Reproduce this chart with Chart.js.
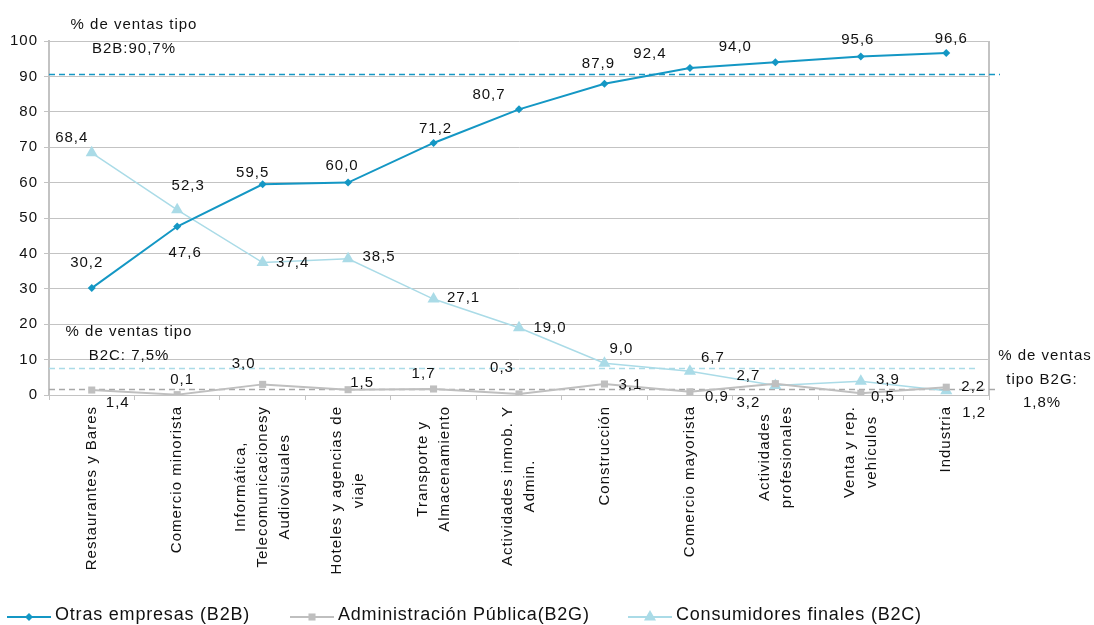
<!DOCTYPE html>
<html lang="es">
<head>
<meta charset="utf-8">
<title>% de ventas por tipo de cliente</title>
<script src="https://cdn.jsdelivr.net/npm/chart.js@4/dist/chart.umd.min.js"></script>
<style>
  html, body { margin: 0; padding: 0; background: #fff; }
  #wrap { width: 1094px; height: 625px; }
</style>
</head>
<body>
<div id="wrap"><canvas id="chart" width="1094" height="625"></canvas></div>
<script>
// --- Data ---
const categories = [
  ['Restaurantes y Bares'],
  ['Comercio minorista'],
  ['Informática,', 'Telecomunicacionesy', 'Audiovisuales'],
  ['Hoteles y agencias de', 'viaje'],
  ['Transporte y', 'Almacenamiento'],
  ['Actividades inmob. Y', 'Admin.'],
  ['Construcción'],
  ['Comercio mayorista'],
  ['Actividades', 'profesionales'],
  ['Venta y rep.', 'vehículos'],
  ['Industria'],
];
const b2b = [30.2, 47.6, 59.5, 60.0, 71.2, 80.7, 87.9, 92.4, 94.0, 95.6, 96.6];
const b2g = [1.4, 0.1, 3.0, 1.5, 1.7, 0.3, 3.1, 0.9, 3.2, 0.5, 2.2];
const b2c = [68.4, 52.3, 37.4, 38.5, 27.1, 19.0, 9.0, 6.7, 2.7, 3.9, 1.2];
const refB2B = 90.7;
const refB2C = 7.5;
const refB2G = 1.8;
const yTicks = [0, 10, 20, 30, 40, 50, 60, 70, 80, 90, 100];

// --- Label placement (pixel offsets from each point) ---
const offB2B = [[-5, -25], [8, 26], [-10, -12], [-6, -17], [2, -14], [-30, -14], [-6, -20], [-40, -14], [-40, -15], [-3, -17], [5, -14]];
const offB2G = [[26, 13], [5, -15], [-19, -21], [14, -7], [-10, -15], [-17, -26], [26, 1], [27, 5], [-27, 19], [22, 4], [27, 0]];
const offB2C = [[-20, -15], [11, -24], [30, 0], [31, -2], [30, -1], [31, 0], [17, -14], [23, -13], [-27, -10], [27, -1], [28, 22]];

// --- Styles ---
const COL_B2B = '#1497c4';
const COL_B2G = '#bfbfbf';
const COL_B2C = '#aadbe7';
const GRID = '#c3c3c3';
const FONT = '"Liberation Sans", Arial, sans-serif';

Chart.defaults.font.family = FONT;
Chart.defaults.color = '#000';

const fmt = v => v.toFixed(1).replace('.', ',');

function drawMarker(ctx, style, x, y, r, color) {
  ctx.save();
  ctx.fillStyle = color;
  ctx.beginPath();
  if (style === 'rectRot') {
    ctx.moveTo(x - r, y); ctx.lineTo(x, y - r); ctx.lineTo(x + r, y); ctx.lineTo(x, y + r);
  } else if (style === 'rect') {
    const s = r * Math.SQRT1_2;
    ctx.rect(x - s, y - s, 2 * s, 2 * s);
  } else {
    const h = r * 1.5;
    ctx.moveTo(x, y - r);
    ctx.lineTo(x + r * 0.866, y + r / 2);
    ctx.lineTo(x - r * 0.866, y + r / 2);
  }
  ctx.closePath();
  ctx.fill();
  ctx.restore();
}

// Reference lines, borders, value labels, category labels, notes and legend
const overlay = {
  id: 'overlay',
  beforeDraw(chart) {
    chart.ctx.letterSpacing = '1px';
  },
  beforeDatasetsDraw(chart) {
    const { ctx, chartArea: a, scales: { y } } = chart;
    ctx.save();
    // right border
    ctx.strokeStyle = GRID;
    ctx.lineWidth = 2;
    ctx.beginPath();
    ctx.moveTo(a.right, a.top);
    ctx.lineTo(a.right, a.bottom);
    ctx.stroke();
    // dashed reference lines
    const refs = [[refB2G, '#a8a8a8', 998], [refB2C, COL_B2C, 976], [refB2B, COL_B2B, 1000]];
    ctx.setLineDash([6, 4]);
    ctx.lineWidth = 1.5;
    refs.forEach(([v, c, end]) => {
      const py = Math.round(y.getPixelForValue(v)) + 0.5;
      ctx.strokeStyle = c;
      ctx.beginPath();
      ctx.moveTo(a.left, py);
      ctx.lineTo(end, py);
      ctx.stroke();
    });
    ctx.restore();
  },
  afterDraw(chart) {
    const { ctx, chartArea: a, scales: { x } } = chart;
    ctx.save();
    ctx.letterSpacing = '1px';
    ctx.fillStyle = '#111';
    ctx.font = '15px ' + FONT;
    ctx.textAlign = 'center';
    ctx.textBaseline = 'middle';

    // value labels
    const offs = [offB2B, offB2G, offB2C];
    chart.data.datasets.forEach((ds, di) => {
      chart.getDatasetMeta(di).data.forEach((pt, i) => {
        const o = offs[di][i];
        ctx.fillText(fmt(ds.data[i]), pt.x + o[0], pt.y + o[1]);
      });
    });

    // notes for reference lines
    ctx.fillText('% de ventas tipo', 134, 25);
    ctx.fillText('B2B:' + fmt(refB2B) + '%', 134, 49);
    ctx.fillText('% de ventas tipo', 129, 332);
    ctx.fillText('B2C: ' + fmt(refB2C) + '%', 129, 356);
    ctx.fillText('% de ventas', 1045, 356);
    ctx.fillText('tipo B2G:', 1042, 380);
    ctx.fillText(fmt(refB2G) + '%', 1042, 403);

    // rotated category labels
    chart.data.labels.forEach((lines, i) => {
      const px = x.getPixelForValue(i);
      const maxW = Math.max(...lines.map(l => ctx.measureText(l).width));
      ctx.save();
      ctx.translate(px, a.bottom + 11);
      ctx.rotate(-Math.PI / 2);
      lines.forEach((l, j) => {
        ctx.fillText(l, -maxW / 2, (j - (lines.length - 1) / 2) * 22);
      });
      ctx.restore();
    });

    // legend
    ctx.font = '18px ' + FONT;
    ctx.letterSpacing = '0.8px';
    ctx.textAlign = 'left';
    const items = [
      ['Otras empresas (B2B)', COL_B2B, 'rectRot', 4, 7],
      ['Administración Pública(B2G)', COL_B2G, 'rect', 5, 290],
      ['Consumidores finales (B2C)', COL_B2C, 'triangle', 7, 628],
    ];
    const ly = 617;
    items.forEach(([txt, col, st, r, lx]) => {
      ctx.strokeStyle = col;
      ctx.lineWidth = 2;
      ctx.beginPath();
      ctx.moveTo(lx, ly);
      ctx.lineTo(lx + 44, ly);
      ctx.stroke();
      drawMarker(ctx, st, lx + 22, ly, r, col);
      ctx.fillText(txt, lx + 48, ly - 2);
    });
    ctx.restore();
  },
};

new Chart(document.getElementById('chart'), {
  type: 'line',
  data: {
    labels: categories,
    datasets: [
      {
        label: 'Otras empresas (B2B)',
        data: b2b,
        borderColor: COL_B2B,
        backgroundColor: COL_B2B,
        borderWidth: 2,
        pointStyle: 'rectRot',
        pointRadius: 4,
        pointBorderWidth: 0,
      },
      {
        label: 'Administración Pública(B2G)',
        data: b2g,
        borderColor: COL_B2G,
        backgroundColor: COL_B2G,
        borderWidth: 2,
        pointStyle: 'rect',
        pointRadius: 5,
        pointBorderWidth: 0,
      },
      {
        label: 'Consumidores finales (B2C)',
        data: b2c,
        borderColor: COL_B2C,
        backgroundColor: COL_B2C,
        borderWidth: 1.5,
        pointStyle: 'triangle',
        pointRadius: 7,
        pointBorderWidth: 0,
      },
    ],
  },
  options: {
    responsive: false,
    animation: false,
    events: [],
    layout: { padding: { top: 41, right: 105, left: 0, bottom: 0 } },
    plugins: {
      legend: { display: false },
      tooltip: { enabled: false },
    },
    scales: {
      x: {
        type: 'category',
        offset: true,
        grid: { drawOnChartArea: false, drawTicks: true, tickLength: 5, color: GRID, offset: true },
        border: { display: true, color: GRID, width: 1 },
        ticks: { display: false },
        afterFit: s => { s.height = 230; },
      },
      y: {
        min: 0,
        max: 100,
        afterBuildTicks: s => { s.ticks = yTicks.map(v => ({ value: v })); },
        grid: { color: GRID, tickLength: 5, lineWidth: 1 },
        border: { color: GRID, width: 2 },
        ticks: { color: '#111', font: { size: 15 }, padding: 6 },
        afterFit: s => { s.width = 49; },
      },
    },
  },
  plugins: [overlay],
});
</script>
</body>
</html>
